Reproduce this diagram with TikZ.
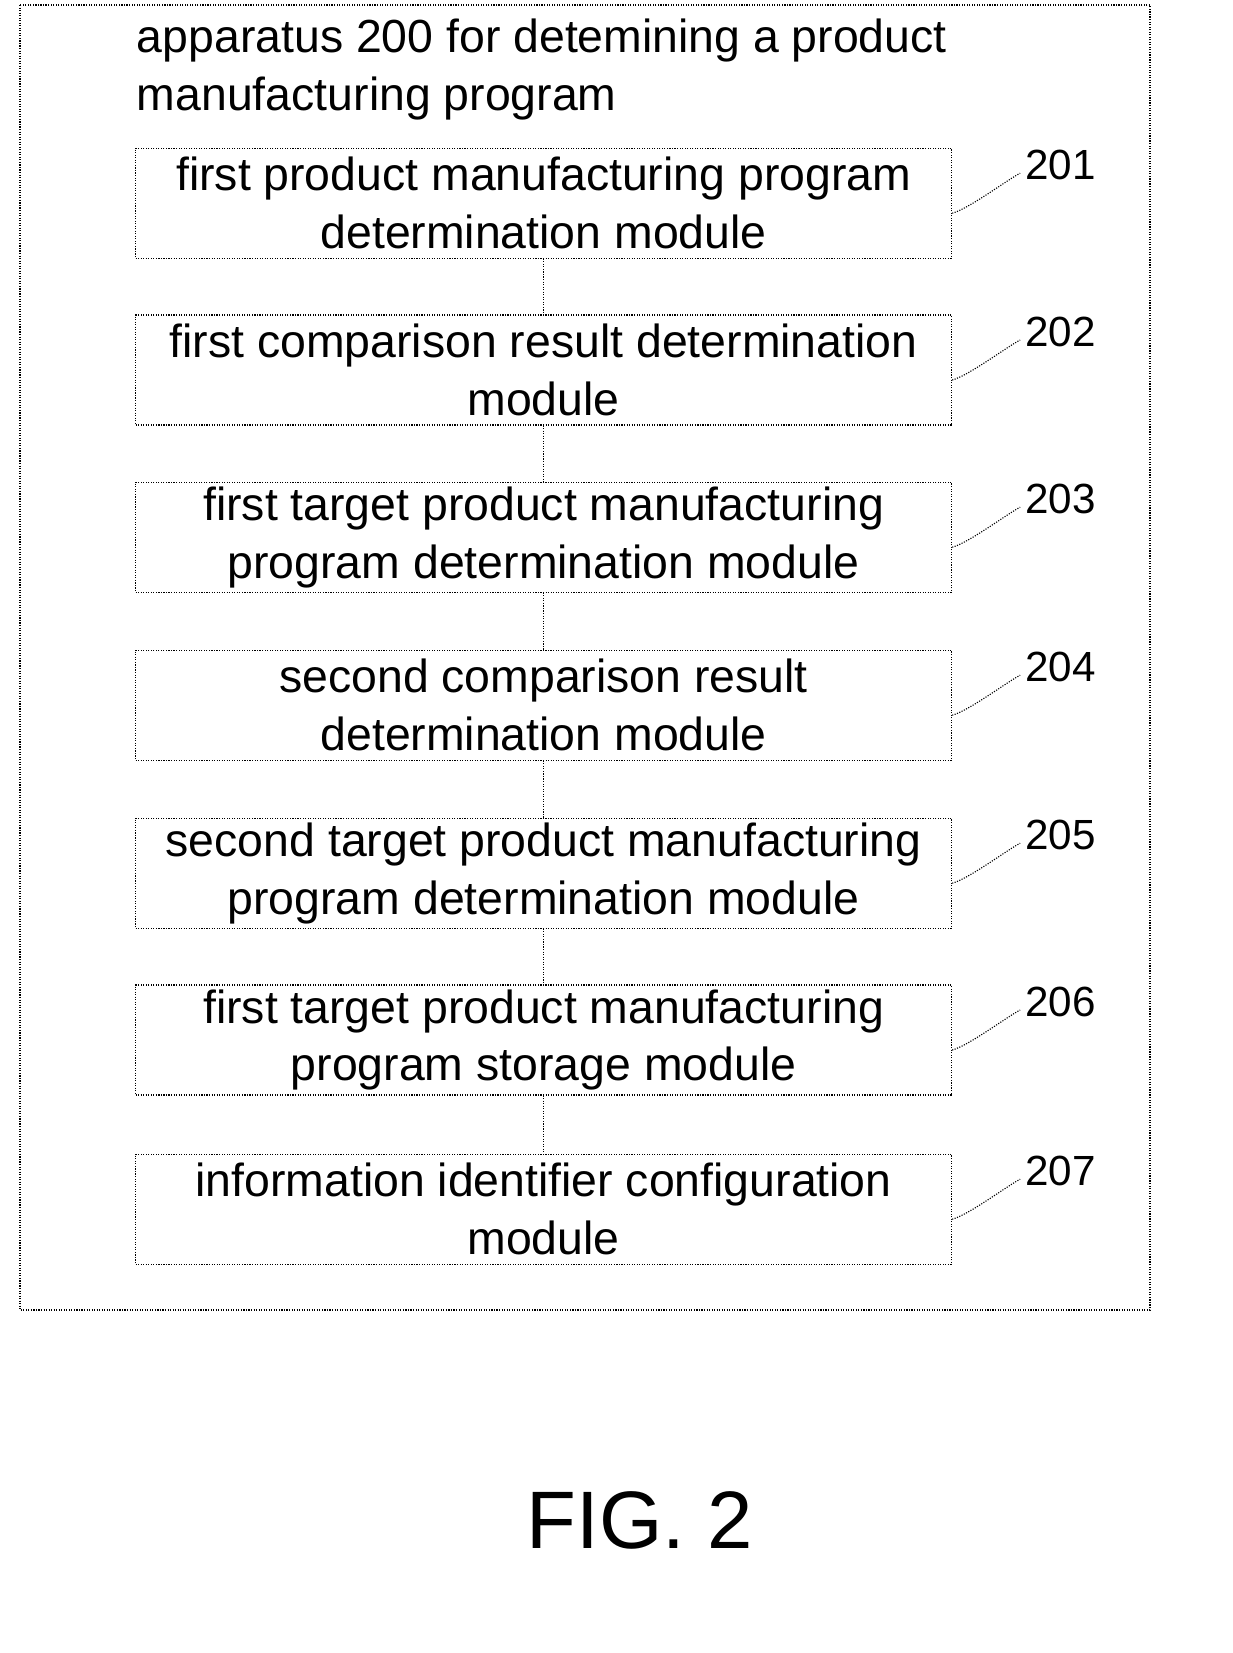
\documentclass[tikz,border=0pt]{standalone}
\usepackage{fontspec}
\setmainfont{Liberation Sans}
\usetikzlibrary{positioning}
\tikzstyle{module}=[draw=black,densely dotted,thick,minimum width=20.4cm,minimum height=2.75cm,align=center,inner sep=2pt,font=\fontsize{33}{41}\selectfont]
\tikzstyle{lbl}=[font=\fontsize{30}{36}\selectfont,anchor=west]
\tikzstyle{lnk}=[draw=black,densely dotted,thick]

\begin{document}
\begin{tikzpicture}
\useasboundingbox (0,0) rectangle (30.825,-41.325);
  %Outer frame
  \draw[densely dotted,thick] (0.5,-0.125) rectangle (28.75,-32.75);
  \node[anchor=north west,align=left,font=\fontsize{33}{41}\selectfont] (title) at (3.3,-0.35)
    {apparatus 200 for detemining a product\\manufacturing program};
  %Modules
  \node[module] (m1) at (13.59,-5.08) {first product manufacturing program\\determination module};
  \node[module] (m2) at (13.59,-9.25) {first comparison result determination\\module};
  \node[module] (m3) at (13.59,-13.43) {first target product manufacturing\\program determination module};
  \node[module] (m4) at (13.59,-17.63) {second comparison result\\determination module};
  \node[module] (m5) at (13.59,-21.83) {second target product manufacturing\\program determination module};
  \node[module] (m6) at (13.59,-26.0) {first target product manufacturing\\program storage module};
  \node[module] (m7) at (13.59,-30.23) {information identifier configuration\\module};
  %Lines
  \foreach \a/\b in {m1/m2,m2/m3,m3/m4,m4/m5,m5/m6,m6/m7}
    \draw[lnk] (\a) -- (\b);
  %Labels
  \foreach \m/\t in {m1/201,m2/202,m3/203,m4/204,m5/205,m6/206,m7/207}{
    \node[lbl] (l\t) at ([xshift=1.7cm,yshift=0.95cm]\m.east) {\t};
    \draw[lnk] ([yshift=-0.25cm]\m.east) .. controls +(0.4,0.1) and +(-0.3,-0.15) .. ([yshift=-0.2cm]l\t.west);
  }
  \node[font=\fontsize{58}{64}\selectfont] (fig) at (16.0,-38.0) {FIG. 2};
\end{tikzpicture}
\end{document}
